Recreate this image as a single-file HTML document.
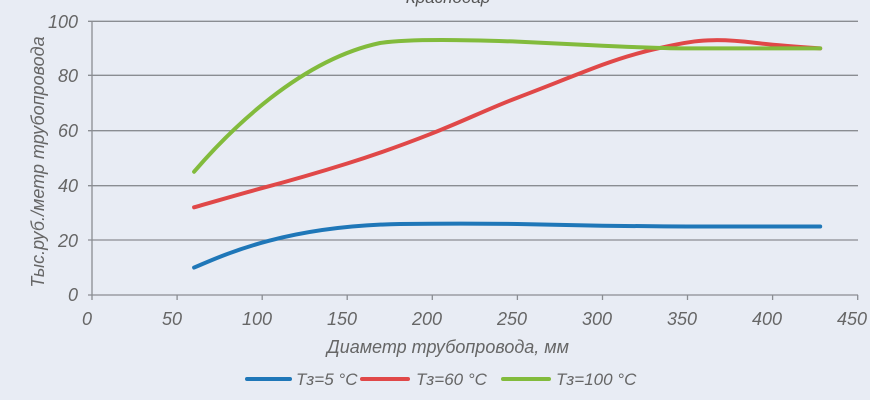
<!DOCTYPE html>
<html><head><meta charset="utf-8"><style>
html,body{margin:0;padding:0;background:#e8ecf4;}
svg{display:block;font-family:"Liberation Sans",sans-serif;font-style:italic;}
</style></head><body>
<svg width="870" height="400" viewBox="0 0 870 400">
<rect width="870" height="400" fill="#e8ecf4"/>
<text x="448" y="3" font-size="17" fill="#555" text-anchor="middle">Краснодар</text>
<g stroke="#8a8d92" stroke-width="1.3">
<line x1="88" y1="21.3" x2="858" y2="21.3"/>
<line x1="88" y1="75.3" x2="858" y2="75.3"/>
<line x1="88" y1="130.7" x2="858" y2="130.7"/>
<line x1="88" y1="185.7" x2="858" y2="185.7"/>
<line x1="88" y1="240" x2="858" y2="240"/>
<line x1="88" y1="295" x2="858" y2="295"/>
<line x1="92" y1="21" x2="92" y2="300"/>
<line x1="177.1" y1="295" x2="177.1" y2="300"/>
<line x1="262.2" y1="295" x2="262.2" y2="300"/>
<line x1="347.2" y1="295" x2="347.2" y2="300"/>
<line x1="432.3" y1="295" x2="432.3" y2="300"/>
<line x1="517.4" y1="295" x2="517.4" y2="300"/>
<line x1="602.5" y1="295" x2="602.5" y2="300"/>
<line x1="687.5" y1="295" x2="687.5" y2="300"/>
<line x1="772.6" y1="295" x2="772.6" y2="300"/>
<line x1="857.7" y1="295" x2="857.7" y2="300"/>
</g>
<g font-size="18" fill="#666" text-anchor="end">
<text x="78" y="28">100</text><text x="78" y="82">80</text><text x="78" y="137">60</text>
<text x="78" y="192">40</text><text x="78" y="247">20</text><text x="78" y="301">0</text>
</g>
<g font-size="18" fill="#666" text-anchor="middle">
<text x="87" y="325">0</text><text x="172" y="325">50</text><text x="257" y="325">100</text>
<text x="342" y="325">150</text><text x="427" y="325">200</text><text x="512" y="325">250</text>
<text x="597" y="325">300</text><text x="682" y="325">350</text><text x="767" y="325">400</text>
<text x="852" y="325">450</text>
</g>
<text x="448" y="353" font-size="18" fill="#666" text-anchor="middle">Диаметр трубопровода, мм</text>
<text transform="translate(44,162) rotate(-90)" font-size="18" fill="#666" text-anchor="middle">Тыс.руб./метр трубопровода</text>
<g fill="none" stroke-width="4" stroke-linecap="round" stroke-linejoin="round">
<path stroke="#1f77b8" d="M194.1,267.6 C230,252 290,226 400,224 C440,223.5 490,223.6 517.4,224 C550,224.5 580,225.4 602.5,225.7 C640,226.2 660,226.4 687.5,226.5 L820.2,226.5"/>
<path stroke="#e04848" d="M194.1,207.3 C220,200 240,194 262.2,188.1 S320,172 347.2,163.5 S400,146 432.3,133.3 S490,108 517.4,97.7 S575,75 602.5,64.8 S650,50 670.5,45.7 S700,40.5 713,40.2 S740,41 755.6,42.9 S800,47 820.2,48.4"/>
<path stroke="#82bb3c" d="M194.1,171.7 C230,130 300,60 380,43 C410,38.5 470,40 517.4,41.6 C550,43 575,44.5 602.5,45.7 C640,47.5 660,48.3 687.5,48.4 L820.2,48.4"/>
</g>
<g stroke-width="4" stroke-linecap="round">
<line x1="247" y1="379" x2="290" y2="379" stroke="#1f77b8"/>
<line x1="362" y1="379" x2="408" y2="379" stroke="#e04848"/>
<line x1="503" y1="379" x2="549" y2="379" stroke="#82bb3c"/>
</g>
<g font-size="17" fill="#666">
<text x="296" y="385">Тз=5 °C</text>
<text x="416" y="385">Тз=60 °C</text>
<text x="556" y="385">Тз=100 °C</text>
</g>
</svg>
</body></html>
